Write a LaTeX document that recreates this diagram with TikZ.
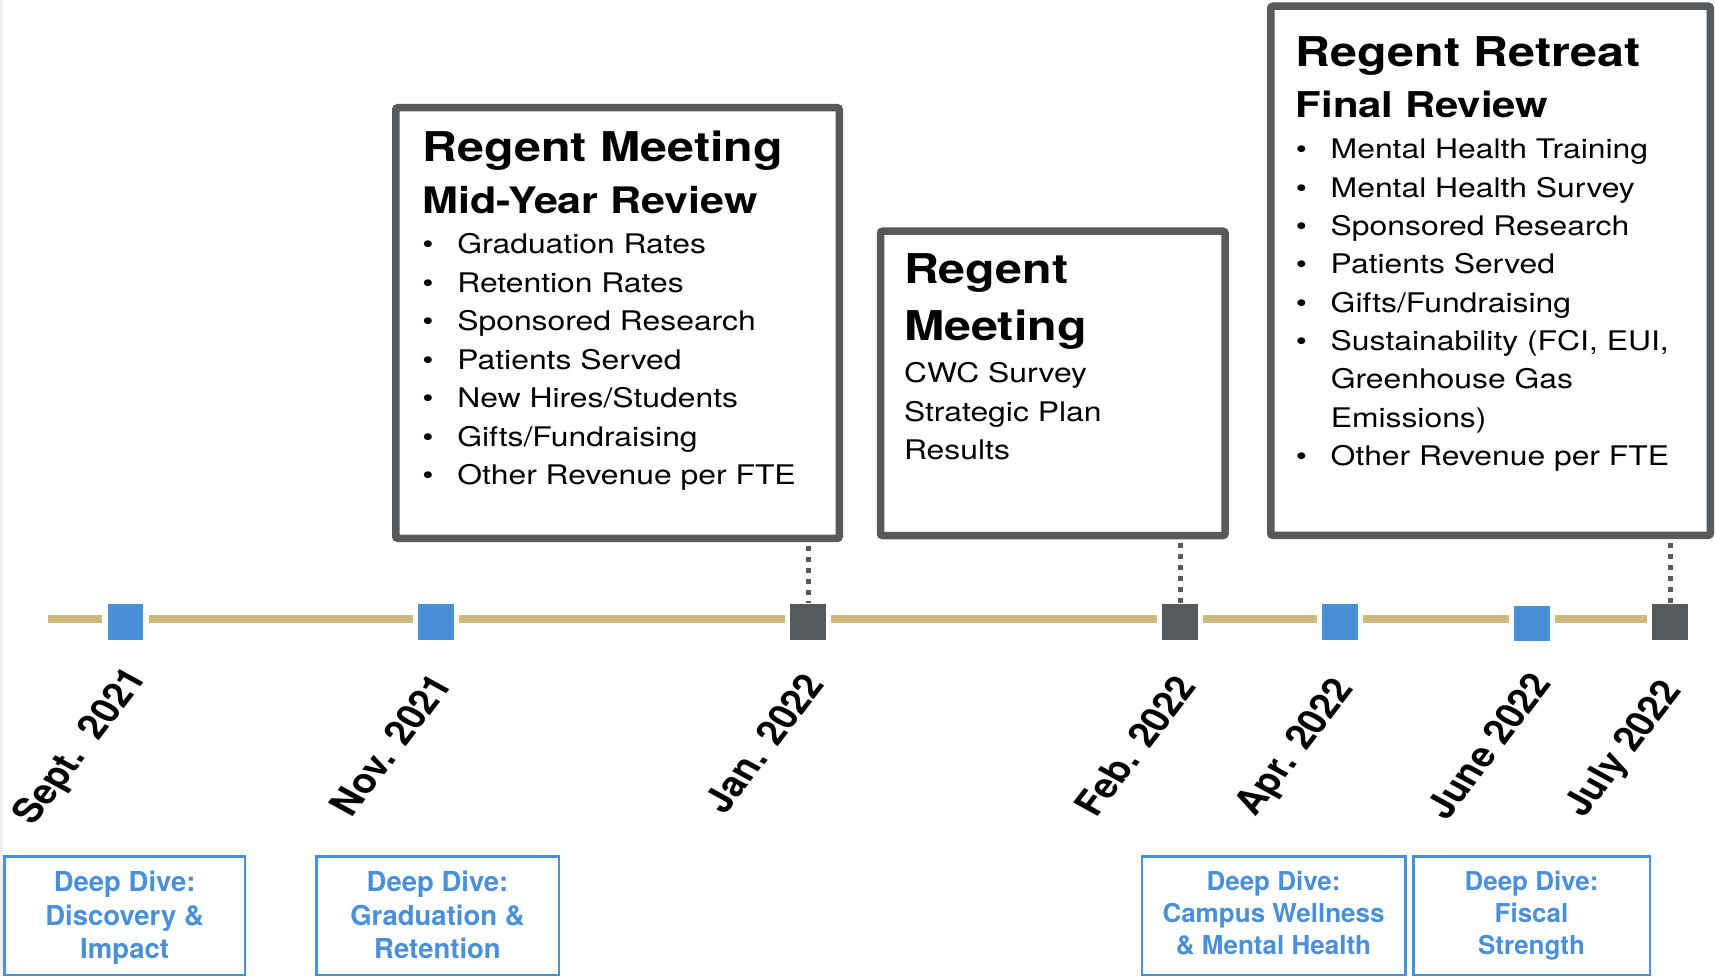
\documentclass[tikz,border=0pt]{standalone}
\usepackage{fontspec}
\setmainfont{TeX Gyre Heros}[FakeStretch=1.18]
\newfontfamily\plainheros{TeX Gyre Heros}
\definecolor{dgray}{HTML}{565A5C}
\definecolor{gold}{HTML}{CFB87C}
\definecolor{ddblue}{HTML}{4A90D9}
\newcommand\ttl[3]{{\fontsize{#1}{#2}\selectfont\bfseries #3\par}}
\newcommand\itm[2]{{\fontsize{27}{#1}\selectfont\hangindent=35pt\hangafter=1 \makebox[35pt][l]{\textbullet}#2\par}}
\newcommand\pln[2]{{\fontsize{27}{#1}\selectfont #2\par}}
\newcommand\boxsetup[1]{\leftskip=#1\relax\lineskiplimit=-1000pt\lineskip=0pt\parindent=0pt}
\begin{document}
\begin{tikzpicture}[x=1pt,y=-1pt,
  mbox/.style={draw=dgray, line width=7.5pt, rounded corners=2pt, inner sep=0pt, outer sep=0pt, anchor=north west, fill=white},
  ddbox/.style={draw=ddblue, line width=2.5pt, inner sep=0pt, outer sep=0pt, anchor=north west, text=ddblue, font=\plainheros\bfseries},
  sqg/.style={fill=dgray, draw=white, line width=5.5pt, minimum size=41pt, inner sep=0pt, outer sep=0pt},
  sqb/.style={sqg, fill=ddblue},
  tl/.style={draw=gold, line width=7.5pt},
  dotc/.style={draw=dgray, line width=5pt, dash pattern=on 5pt off 6pt, shorten <=7.75pt, shorten >=-1.5pt},
  datel/.style={font=\plainheros\fontsize{34}{40}\selectfont\bfseries, xscale=1.18, rotate=57, anchor=north east, inner sep=0pt}]
\useasboundingbox (0,0) rectangle (1716,976);
\fill[gray!12] (0,0) rectangle (3,976);
% timeline
\coordinate (ls) at (48,619);
\coordinate (le) at (1670,619);
\draw[tl] (ls) -- (le);
\node[sqb] (s1) at (125.3,622) {};
\node[sqb] (s2) at (436,622) {};
\node[sqg] (s3) at (808,622) {};
\node[sqg] (s4) at (1180,622) {};
\node[sqb] (s5) at (1340,622) {};
\node[sqb] (s6) at (1532,623.5) {};
\node[sqg] (s7) at (1670,622) {};
% regent boxes
\node[mbox] (b1) at (395.75,107.75) {\parbox[t][430.5pt][t]{443.5pt}{\boxsetup{26.6pt}%
\ttl{41}{10}{\rule{0pt}{54.25pt}Regent Meeting}%
\ttl{36.5}{52}{Mid-Year Review}%
\itm{40}{Graduation Rates}%
\itm{38.5}{Retention Rates}%
\itm{38.5}{Sponsored Research}%
\itm{38.5}{Patients Served}%
\itm{38.5}{New Hires/Students}%
\itm{38.5}{Gifts/Fundraising}%
\itm{38.5}{Other Revenue per FTE}}};
\node[mbox] (b2) at (880.5,231.25) {\parbox[t][304.25pt][t]{344.5pt}{\boxsetup{23.5pt}%
\ttl{41}{10}{\rule{0pt}{52.75pt}Regent}%
\ttl{41}{56.5}{Meeting}%
\pln{42.5}{CWC Survey}%
\pln{38.3}{Strategic Plan}%
\pln{38.3}{Results}}};
\node[mbox] (b3) at (1270.75,6.25) {\parbox[t][529pt][t]{439.5pt}{\boxsetup{25pt}%
\ttl{41}{10}{\rule{0pt}{60.75pt}Regent Retreat}%
\ttl{35.5}{51}{Final Review}%
\itm{41}{Mental Health Training}%
\itm{38.3}{Mental Health Survey}%
\itm{38.3}{Sponsored Research}%
\itm{38.3}{Patients Served}%
\itm{38.3}{Gifts/Fundraising}%
\itm{38.3}{Sustainability (FCI, EUI,\\Greenhouse Gas\\Emissions)}%
\itm{38.3}{Other Revenue per FTE}}};
% connectors
\draw[dotc] (s3.north |- b1.south) -- (s3.north);
\draw[dotc] (s4.north |- b2.south) -- (s4.north);
\draw[dotc] (s7.north |- b3.south) -- (s7.north);
% date labels
\node[datel] (l1) at (122.5,663.6) {Sept.\hspace{0.55em}2021};
\node[datel] (l2) at (429.5,670.5) {Nov. 2021};
\node[datel] (l3) at (801.5,670.5) {Jan. 2022};
\node[datel] (l4) at (1173.4,672.7) {Feb. 2022};
\node[datel] (l5) at (1330.3,674.7) {Apr. 2022};
\node[datel] (l6) at (1528.4,669.6) {June 2022};
\node[datel] (l7) at (1658.3,676.8) {July 2022};
% deep dive boxes
\node[ddbox] (d1) at (4.5,856.25) {\parbox[t][118.5pt][t]{240.25pt}{\centering\fontsize{27.5}{33.5}\selectfont\rule{0pt}{35.25pt}Deep Dive:\\Discovery \&\\Impact}};
\node[ddbox] (d2) at (316.25,856.25) {\parbox[t][118.5pt][t]{242.5pt}{\centering\fontsize{27.5}{33.5}\selectfont\rule{0pt}{35.25pt}Deep Dive:\\Graduation \&\\Retention}};
\node[ddbox] (d3) at (1141.75,856.25) {\parbox[t][118.5pt][t]{263.5pt}{\centering\fontsize{26}{31.7}\selectfont\rule{0pt}{34.5pt}Deep Dive:\\Campus Wellness\\\& Mental Health}};
\node[ddbox] (d4) at (1413.25,856.25) {\parbox[t][118.5pt][t]{236.5pt}{\centering\fontsize{26}{31.7}\selectfont\rule{0pt}{34.5pt}Deep Dive:\\Fiscal\\Strength}};
\end{tikzpicture}
\end{document}
